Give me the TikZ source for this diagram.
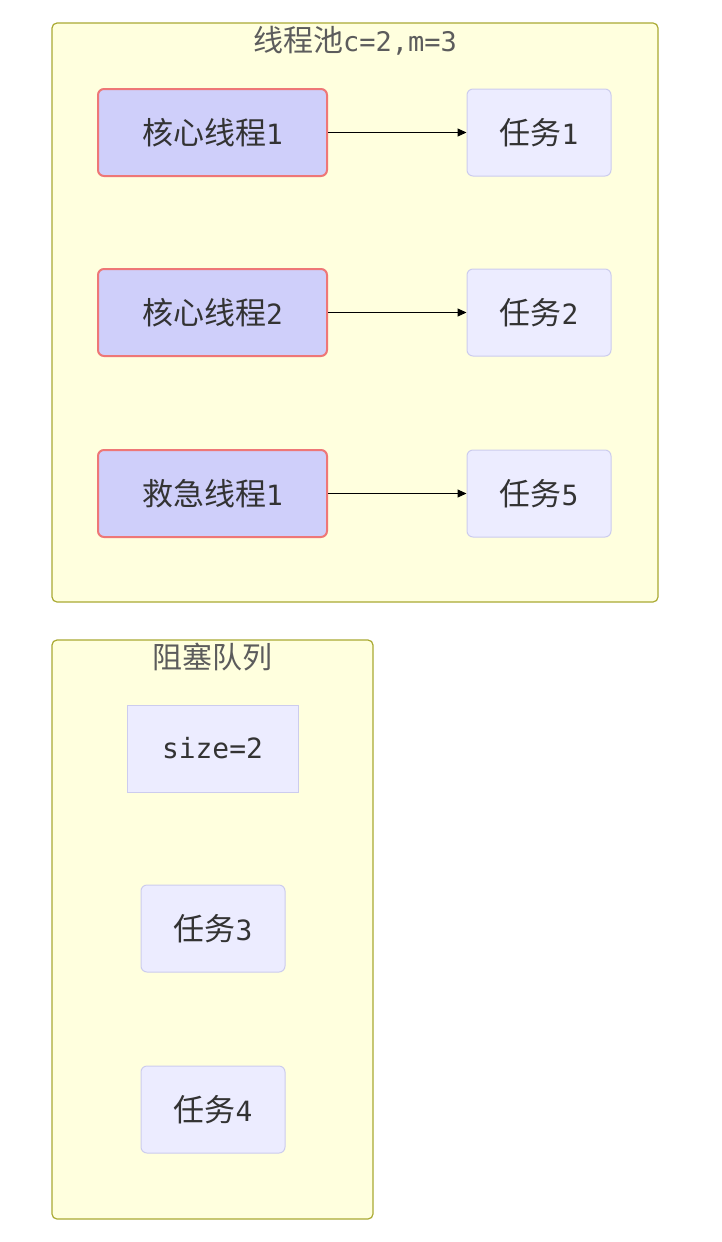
\documentclass[tikz,border=0pt]{standalone}
\usepackage{fontspec}
\setmainfont{Noto Sans CJK SC}
\newfontfamily\monof[Scale=0.9]{DejaVu Sans Mono}
\usetikzlibrary{arrows.meta}
\definecolor{grpfill}{HTML}{FFFFDE}
\definecolor{grpline}{HTML}{AAAA33}
\definecolor{thrfill}{HTML}{CFCFFA}
\definecolor{thrline}{HTML}{EE7777}
\definecolor{tskfill}{HTML}{ECECFF}
\definecolor{tskline}{HTML}{CCCCEE}
\definecolor{txt}{HTML}{333333}
\tikzset{
  grp/.style={draw=grpline, fill=grpfill, line width=1.2pt, rounded corners=5pt},
  thr/.style={draw=thrline, fill=thrfill, line width=2pt, rounded corners=6pt, minimum width=229pt, minimum height=87pt, text=txt, font=\fontsize{31}{36}\selectfont, inner sep=0pt},
  tsk/.style={draw=tskline, fill=tskfill, line width=1pt, rounded corners=6pt, minimum width=144pt, minimum height=87pt, text=txt, font=\fontsize{31}{36}\selectfont, inner sep=0pt},
  ttl/.style={text=txt!80, font=\fontsize{30}{34}\selectfont, inner sep=0pt},
  conn/.style={draw=black, line width=1pt, -{Triangle[length=9pt,width=8pt]}}
}
\begin{document}
\begin{tikzpicture}[x=1pt,y=-1pt]
\useasboundingbox[fill=white] (0,0) rectangle (722,1242);
% group 1
\draw[grp] (52,23) rectangle (658,602);
\node[ttl] (t1) at (355,41) {线程池{\monof c=2,m=3}};
\node[thr] (c1) at (212.5,132.5) {核心线程{\monof 1}};
\node[thr] (c2) at (212.5,312.5) {核心线程{\monof 2}};
\node[thr] (e1) at (212.5,493.5) {救急线程{\monof 1}};
\node[tsk] (k1) at (539,132.5) {任务{\monof 1}};
\node[tsk] (k2) at (539,312.5) {任务{\monof 2}};
\node[tsk] (k5) at (539,493.5) {任务{\monof 5}};
\draw[conn] (c1) -- (k1);
\draw[conn] (c2) -- (k2);
\draw[conn] (e1) -- (k5);
% group 2
\draw[grp] (52,640) rectangle (373,1219);
\node[ttl] (t2) at (212.5,657) {阻塞队列};
\node[tsk, rounded corners=0pt, minimum width=171pt] (sz) at (212.5,748.5) {\monof size=2};
\node[tsk] (k3) at (213,928.5) {任务{\monof 3}};
\node[tsk] (k4) at (213,1109.5) {任务{\monof 4}};
\end{tikzpicture}
\end{document}
